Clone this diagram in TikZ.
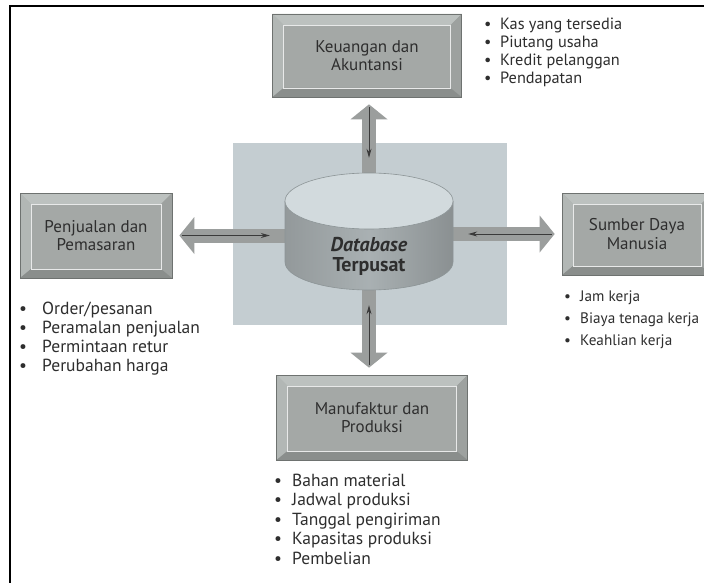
\documentclass[tikz,border=0pt]{standalone}
\usepackage{fontspec}
\setmainfont{PT Sans}
\usetikzlibrary{arrows.meta,calc}
\definecolor{bggray}{HTML}{C4CDD1}
\definecolor{boxface}{HTML}{A4A8A6}
\definecolor{bevtop}{HTML}{BCC1BF}
\definecolor{bevleft}{HTML}{B2B7B5}
\definecolor{bevright}{HTML}{9DA19F}
\definecolor{bevbot}{HTML}{8A8E8C}
\definecolor{boxline}{HTML}{6E7270}
\definecolor{txt}{HTML}{2E2E2E}
\definecolor{arrgray}{HTML}{9B9E9D}
\definecolor{thinc}{HTML}{3A3A3A}
\definecolor{cyltop}{HTML}{D2DADD}
\definecolor{cylbody}{HTML}{ADB4B6}
\definecolor{cylline}{HTML}{8C9496}
\newcommand\myitem[1]{\makebox[#1][l]{•}}
\tikzset{
  bevelbox/.style={draw=boxline, line width=0.7pt, fill=boxface, align=center,
    text=txt, font={\fontsize{17}{18.5}\selectfont}, inner sep=0pt,
    path picture={
      \coordinate (bbsw) at (path picture bounding box.south west);
      \coordinate (bbne) at (path picture bounding box.north east);
      \coordinate (bbnw) at (path picture bounding box.north west);
      \coordinate (bbse) at (path picture bounding box.south east);
      \fill[bevtop] (bbnw) -- (bbne) -- ([shift={(-11pt,-11pt)}]bbne) -- ([shift={(11pt,-11pt)}]bbnw) -- cycle;
      \fill[bevleft] (bbnw) -- (bbsw) -- ([shift={(11pt,9pt)}]bbsw) -- ([shift={(11pt,-11pt)}]bbnw) -- cycle;
      \fill[bevright] (bbne) -- (bbse) -- ([shift={(-11pt,9pt)}]bbse) -- ([shift={(-11pt,-11pt)}]bbne) -- cycle;
      \fill[bevbot] (bbsw) -- (bbse) -- ([shift={(-11pt,9pt)}]bbse) -- ([shift={(11pt,9pt)}]bbsw) -- cycle;
      \draw[white!75!boxface, line width=0.5pt] ([shift={(11pt,9pt)}]bbsw) rectangle ([shift={(-11pt,-11pt)}]bbne);
    }},
  blockarrow/.style={line width=14pt, arrgray,
    -{Triangle[width=37pt,length=15pt,line width=0pt]}, shorten >=7pt},
  thinarrow/.style={thinc, line width=0.9pt, -{Stealth[length=9pt,width=5pt]},
    shorten <=10pt, shorten >=15pt},
  listtext/.style={anchor=north west, inner sep=0pt, align=left, text=txt},
  framel/.style={black, line width=2.5pt}
}
\begin{document}
\begin{tikzpicture}[x=1pt,y=-1pt]
\clip (0,0) rectangle (704,583);
\fill[white] (0,0) rectangle (704,583);
\draw[framel] (10,583) -- (10,6) -- (704,6);

% background square
\fill[bggray] (233,143) rectangle (507,325);

% boxes
\node[bevelbox, minimum width=189pt, minimum height=83pt] (keu) at (367,55.5) {Keuangan dan\\Akuntansi};
\node[bevelbox, minimum width=152pt, minimum height=85pt] (pen) at (96,235.5) {Penjualan dan\\Pemasaran};
\node[bevelbox, minimum width=150pt, minimum height=82pt] (sdm) at (637,234) {Sumber Daya\\Manusia};
\node[bevelbox, minimum width=191pt, minimum height=85pt] (man) at (372,417.5) {Manufaktur dan\\Produksi};

% database node (shape area)
\node[minimum width=168pt, minimum height=117pt, inner sep=0pt] (db) at (369,231.5) {};

% block arrows
\draw[blockarrow] (db.north) -- (db.north |- keu.south);
\draw[blockarrow] (db.south) -- (db.south |- man.north);
\draw[blockarrow] (pen.east -| db.west) -- (pen.east);
\draw[blockarrow] (sdm.west -| db.east) -- (sdm.west);

% thin arrows
\draw[thinarrow] (db.north |- keu.south) -- (db.north);
\draw[thinarrow] (db.south |- man.north) -- (db.south);
\draw[thinarrow] (pen.east) -- (pen.east -| db.west);
\draw[thinarrow] (sdm.west) -- (sdm.west -| db.east);

% cylinder
\shade[left color=cylbody!85!black, right color=cylbody!80!black, middle color=cylbody!105!white] (285,201) -- (285,262) arc[start angle=180, end angle=360, x radius=84, y radius=-28] -- (453,201) -- cycle;
\draw[cylline, line width=0.6pt] (285,201) -- (285,262) arc[start angle=180, end angle=360, x radius=84, y radius=-28] -- (453,201);
\filldraw[fill=cyltop, draw=cylline, line width=0.6pt] (369,201) ellipse[x radius=84, y radius=28];
\node[align=center, text=txt, font={\fontsize{20}{20}\selectfont\bfseries}] (dbl) at (369,256) {\textit{Database}\\Terpusat};

% lists
\node[listtext, font={\fontsize{16.3}{18}\selectfont}] (lkeu) at (484,18)
  {\myitem{16pt}Kas yang tersedia\\\myitem{16pt}Piutang usaha\\\myitem{16pt}Kredit pelanggan\\\myitem{16pt}Pendapatan};
\node[listtext, font={\fontsize{17.5}{19}\selectfont}] (lpen) at (19,302)
  {\myitem{23pt}Order/pesanan\\\myitem{23pt}Peramalan penjualan\\\myitem{23pt}Permintaan retur\\\myitem{23pt}Perubahan harga};
\node[listtext, font={\fontsize{15.2}{22}\selectfont}] (lsdm) at (564,291)
  {\myitem{16pt}Jam kerja\\\myitem{16pt}Biaya tenaga kerja\\\myitem{16pt}Keahlian kerja};
\node[listtext, font={\fontsize{17.5}{19.5}\selectfont}] (lman) at (274,473.5)
  {\myitem{18pt}Bahan material\\\myitem{18pt}Jadwal produksi\\\myitem{18pt}Tanggal pengiriman\\\myitem{18pt}Kapasitas produksi\\\myitem{18pt}Pembelian};
\end{tikzpicture}
\end{document}
